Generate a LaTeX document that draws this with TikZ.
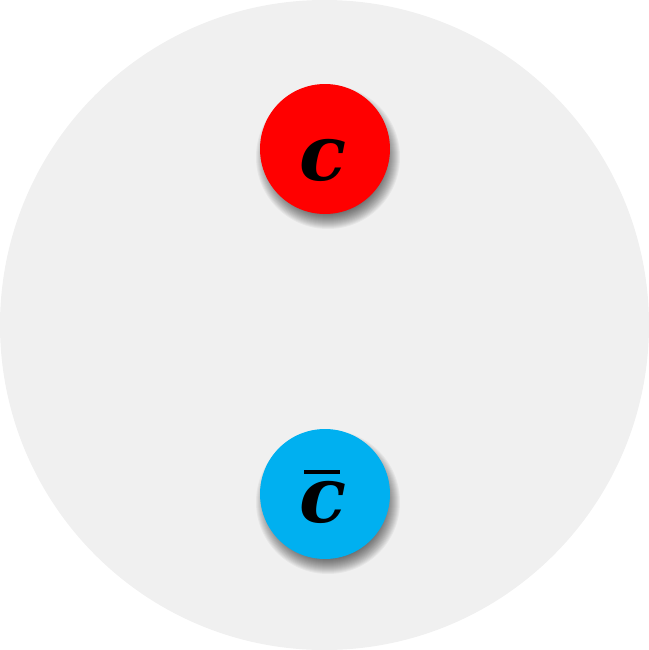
\documentclass[tikz,border=0pt]{standalone}
\usepackage{fontspec}
\newfontfamily\lettfont{DejaVu Serif}
\definecolor{bggray}{HTML}{F0F0F0}
\definecolor{qred}{HTML}{FF0000}
\definecolor{qblue}{HTML}{00B0F0}
\tikzset{
  quark/.style={circle, minimum size=2.6cm, inner sep=0pt},
  letter/.style={inner sep=0pt, font=\lettfont\bfseries\itshape\fontsize{44}{44}\selectfont}
}
\begin{document}
\begin{tikzpicture}[x=0.02cm,y=-0.02cm]
\useasboundingbox (0,0) rectangle (649,650);
\fill[bggray] (324.5,325) ellipse [x radius=324.5, y radius=325];
\foreach \cy in {149,494}{
  \foreach \r in {56,57,...,72}{
    \fill[black, opacity=0.045] (328,\cy+8) circle [radius=\r];
  }
}
\node[quark, fill=qred] (c) at (325,149) {};
\node[quark, fill=qblue] (cbar) at (325,494) {};
\node[letter, anchor=base] (cl) at (323,180) {c};
\node[letter, anchor=base] (cbl) at (323,522) {c};
\fill (304,470) rectangle (340,474);
\end{tikzpicture}
\end{document}
